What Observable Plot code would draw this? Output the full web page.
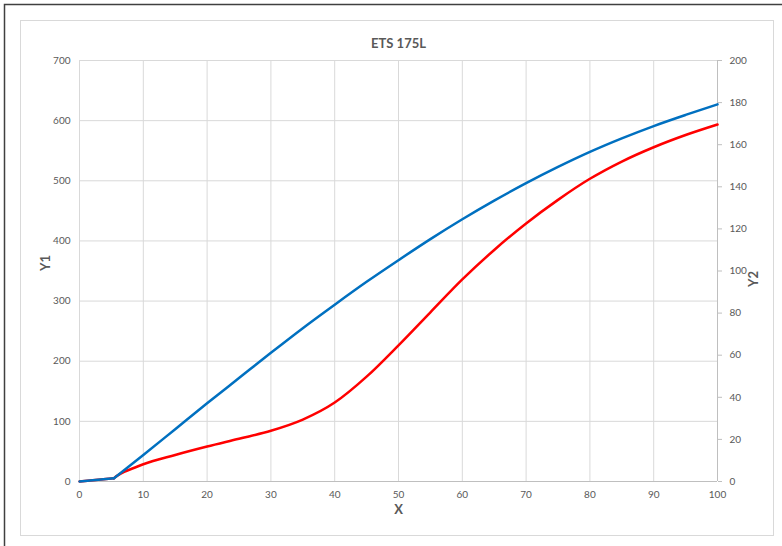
<!DOCTYPE html>
<html>
<head>
<meta charset="utf-8">
<script src="https://cdn.jsdelivr.net/npm/d3@7"></script>
<script src="https://cdn.jsdelivr.net/npm/@observablehq/plot@0.6"></script>
<style>
  html, body { margin: 0; padding: 0; background: #fff; }
  #chart { width: 782px; height: 546px; }
</style>
</head>
<body>
<div id="chart"></div>
<script>
// ---- data ----
const title = "ETS 175L";
const kinkX = 5.4; // both series have a corner here
const blueX  = [0, 5.4, 10, 15, 20, 25, 30, 35, 40, 45, 50, 55, 60, 65, 70, 75, 80, 85, 90, 95, 100];
const blueY1 = [0, 5.5, 44, 87, 130, 172, 214, 255, 294, 332, 368, 403, 436, 467, 496, 523, 548, 570.5, 591, 609.5, 627];
const redX   = [0, 5.4, 6, 7, 8.5, 10, 15, 20, 25, 30, 35, 40, 45, 50, 55, 60, 65, 70, 75, 80, 85, 90, 95, 100];
const redY2  = [0, 1.6, 2.9, 4.6, 6.4, 8.2, 12.6, 16.6, 20.3, 24.1, 29.4, 37.5, 49.8, 64.7, 80.4, 96.0, 110.0, 122.6, 133.8, 143.8, 152.0, 158.8, 164.6, 169.6];
const xTicks  = [0, 10, 20, 30, 40, 50, 60, 70, 80, 90, 100];
const y1Ticks = [0, 100, 200, 300, 400, 500, 600, 700];
const y2Ticks = [0, 20, 40, 60, 80, 100, 120, 140, 160, 180, 200];
const y1Max = 700, y2Max = 200;

const ratio = y1Max / y2Max;
const blue = blueX.map((x, i) => ({x, y: blueY1[i]}));
const red  = redX.map((x, i) => ({x, y: redY2[i] * ratio}));
const head = arr => arr.filter(d => d.x <= kinkX);
const tail = arr => arr.filter(d => d.x >= kinkX);

const textColor = "#595959";
const gridColor = "#d9d9d9";
const blueColor = "#0070c0";
const redColor = "#ff0000";

const plot = Plot.plot({
  width: 782,
  height: 546,
  marginLeft: 79,
  marginRight: 65,
  marginTop: 60,
  marginBottom: 65,
  style: {fontFamily: "Lato, 'Open Sans', sans-serif", color: textColor, background: "#fff", overflow: "visible"},
  x: {domain: [0, 100]},
  y: {domain: [0, y1Max]},
  marks: [
    Plot.gridX(xTicks, {stroke: gridColor, strokeOpacity: 1, strokeWidth: 1}),
    Plot.gridY(y1Ticks, {stroke: gridColor, strokeOpacity: 1, strokeWidth: 1}),
    Plot.ruleY([0], {stroke: "#bfbfbf", strokeWidth: 1}),
    Plot.ruleX([100], {stroke: "#bfbfbf", strokeWidth: 1}),
    Plot.axisX(xTicks, {tickSize: 0, tickPadding: 9, fontSize: 10, fill: textColor, label: null}),
    Plot.axisY(y1Ticks, {anchor: "left", tickSize: 0, tickPadding: 9, fontSize: 10, fill: textColor, label: null}),
    Plot.axisY(y2Ticks.map(v => v * ratio), {anchor: "right", tickSize: 4, tickPadding: 8, stroke: "#bfbfbf", fontSize: 10, fill: textColor, label: null, tickFormat: d => String(Math.round(d / ratio))}),
    Plot.line(head(red),  {x: "x", y: "y", stroke: redColor, strokeWidth: 2.5}),
    Plot.line(tail(red),  {x: "x", y: "y", stroke: redColor, strokeWidth: 2.5, curve: "monotone-x"}),
    Plot.line(head(blue), {x: "x", y: "y", stroke: blueColor, strokeWidth: 2.5}),
    Plot.line(tail(blue), {x: "x", y: "y", stroke: blueColor, strokeWidth: 2.5, curve: "monotone-x"}),
    Plot.text([title], {frameAnchor: "top", dy: -22, fontSize: 13, fontWeight: "bold", fill: textColor}),
    Plot.text(["X"], {frameAnchor: "bottom", dy: 32, fontSize: 13, fontWeight: "bold", fill: textColor}),
    Plot.text(["Y1"], {frameAnchor: "left", dx: -34, rotate: -90, fontSize: 13, fontWeight: "bold", fill: textColor}),
    Plot.text(["Y2"], {frameAnchor: "right", dx: 36, rotate: -90, fontSize: 13, fontWeight: "bold", fill: textColor})
  ]
});

// decorative frames (chart area border and outer window border)
const svg = d3.select(plot);
svg.insert("rect", ":first-child")
  .attr("x", 20.5).attr("y", 20.5).attr("width", 753).attr("height", 515)
  .attr("fill", "none").attr("stroke", "#d9d9d9").attr("stroke-width", 1);
svg.append("path")
  .attr("d", "M4.5,546 V4.5 H782")
  .attr("fill", "none").attr("stroke", "#404040").attr("stroke-width", 1.5);

document.getElementById("chart").appendChild(plot);
</script>
</body>
</html>
